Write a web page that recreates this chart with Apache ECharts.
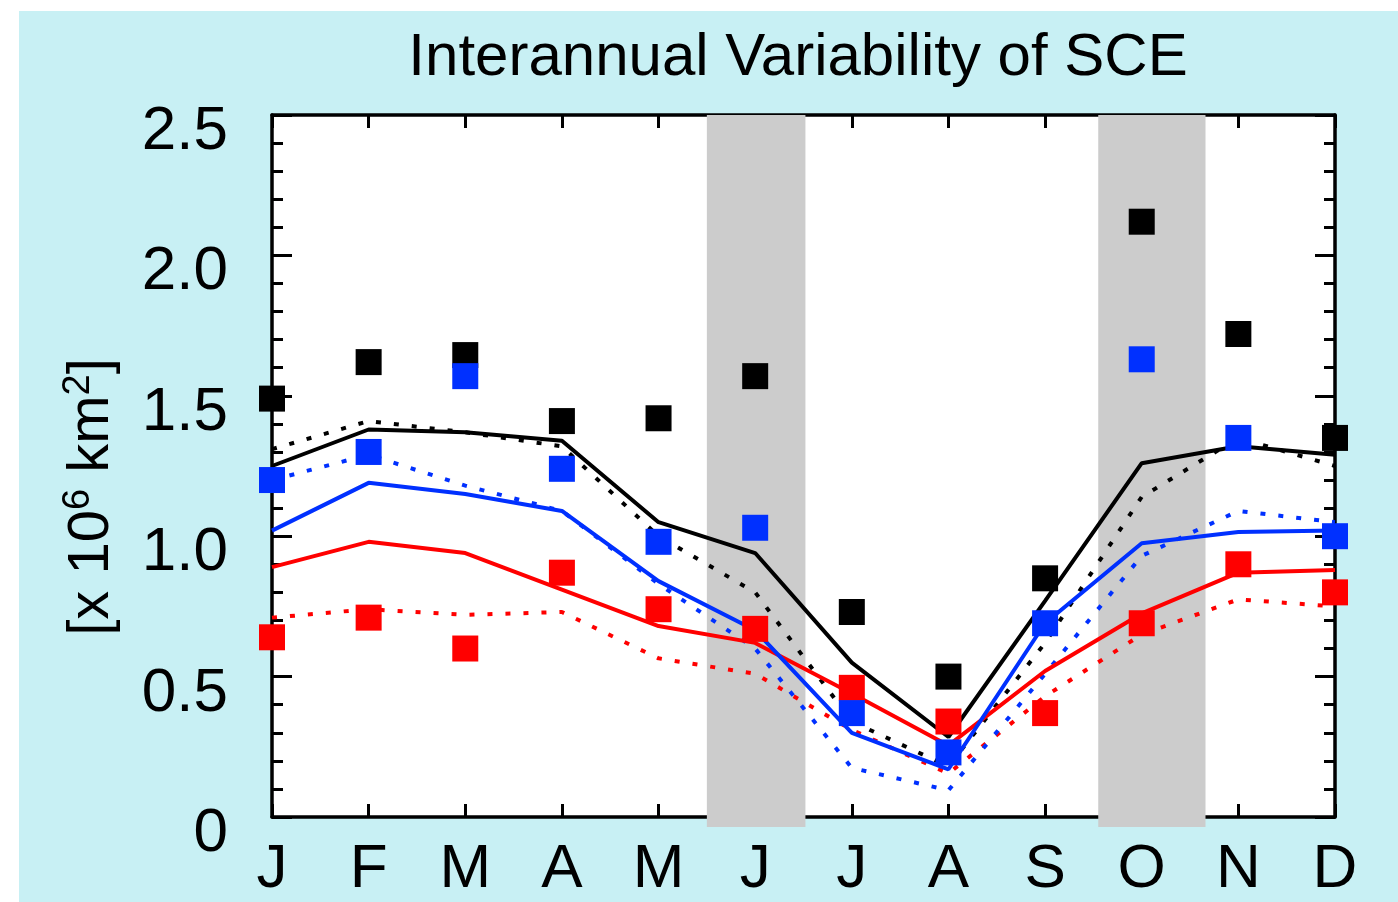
<!DOCTYPE html>
<html>
<head>
<meta charset="utf-8">
<script src="https://cdn.jsdelivr.net/npm/echarts@6/dist/echarts.min.js"></script>
<style>
  html, body { margin: 0; padding: 0; background: #ffffff; }
  #chart {
    position: absolute;
    left: 19px;
    top: 11px;
    width: 1379px;
    height: 891px;
    background: #c8f0f4;
  }
</style>
</head>
<body>
<div id="chart"></div>
<script>
// months along the bottom
const months = ['J', 'F', 'M', 'A', 'M', 'J', 'J', 'A', 'S', 'O', 'N', 'D']
const yTicks = [0, 0.5, 1.0, 1.5, 2.0, 2.5]

// square markers
const blackSquares = [1.49, 1.62, 1.645, 1.41, 1.42, 1.57, 0.73, 0.50, 0.85, 2.12, 1.72, 1.35]
const redSquares = [0.64, 0.71, 0.60, 0.87, 0.74, 0.67, 0.46, 0.34, 0.37, 0.69, 0.90, 0.80]
const blueSquares = [1.20, 1.30, 1.57, 1.24, 0.98, 1.03, 0.37, 0.23, 0.69, 1.63, 1.35, 1.00]

// solid lines
const blackSolid = [1.25, 1.38, 1.37, 1.34, 1.05, 0.94, 0.55, 0.285, 0.77, 1.26, 1.32, 1.29]
const blueSolid = [1.02, 1.19, 1.15, 1.09, 0.84, 0.665, 0.30, 0.17, 0.69, 0.975, 1.015, 1.02]
const redSolid = [0.89, 0.98, 0.94, 0.81, 0.68, 0.62, 0.44, 0.255, 0.52, 0.725, 0.87, 0.88]

// dotted lines
const blackDotted = [1.31, 1.41, 1.37, 1.32, 1.00, 0.80, 0.34, 0.18, 0.62, 1.14, 1.35, 1.25]
const blueDotted = [1.20, 1.29, 1.18, 1.09, 0.83, 0.60, 0.175, 0.095, 0.51, 0.93, 1.09, 1.05]
const redDotted = [0.71, 0.74, 0.72, 0.73, 0.565, 0.51, 0.31, 0.155, 0.43, 0.65, 0.775, 0.75]

// shaded month ranges (in month index units)
const bands = [[4.5, 5.52], [8.55, 9.66]]

const FONT = 'Liberation Sans, Helvetica, Arial, sans-serif'
const BLACK = '#000000'
const BLUE = '#0030ff'
const RED = '#ff0000'

const chart = echarts.init(document.getElementById('chart'))

const pairs = arr => arr.map((v, i) => [i, v])

const lineSeries = (data, color, dotted) => ({
  type: 'line',
  data: pairs(data),
  xAxisIndex: 0,
  yAxisIndex: 0,
  symbol: 'none',
  silent: true,
  z: 2,
  lineStyle: {
    color: color,
    width: 4,
    type: dotted ? [5, 13] : 'solid'
  }
})

const squareSeries = (data, color, z) => ({
  type: 'scatter',
  data: pairs(data),
  xAxisIndex: 0,
  yAxisIndex: 0,
  symbol: 'rect',
  symbolSize: 26,
  silent: true,
  z: z,
  itemStyle: { color: color, opacity: 1 }
})

const yAxisBase = {
  type: 'value',
  min: 0,
  max: 2.5,
  interval: 0.5,
  gridIndex: 0,
  axisLine: { show: true, onZero: false, lineStyle: { color: BLACK, width: 3.5 } },
  axisTick: { show: true, inside: true, length: 20, lineStyle: { color: BLACK, width: 3 } },
  minorTick: { show: true, splitNumber: 5, length: 11, lineStyle: { color: BLACK, width: 3 } },
  splitLine: { show: false }
}

const xAxisBase = {
  type: 'value',
  min: 0,
  max: 11,
  interval: 1,
  gridIndex: 0,
  axisLine: { show: true, onZero: false, lineStyle: { color: BLACK, width: 3.5 } },
  axisTick: { show: true, inside: true, length: 13, lineStyle: { color: BLACK, width: 3 } },
  splitLine: { show: false }
}

const option = {
  animation: false,
  backgroundColor: 'transparent',
  title: {
    text: 'Interannual Variability of SCE',
    left: 774,
    top: 12,
    textAlign: 'center',
    textStyle: { fontFamily: FONT, fontSize: 60, fontWeight: 'normal', color: BLACK }
  },
  grid: [
    { left: 253, right: 63, top: 104, bottom: 85, show: true, backgroundColor: '#ffffff', borderWidth: 0, z: -2 },
    { left: 253, right: 63, top: 104, bottom: 75, show: false }
  ],
  xAxis: [
    Object.assign({}, xAxisBase, {
      position: 'bottom',
      axisLabel: {
        show: true,
        margin: 22,
        fontFamily: FONT,
        fontSize: 62,
        color: BLACK,
        formatter: v => months[v] || ''
      }
    }),
    Object.assign({}, xAxisBase, { position: 'top', axisLabel: { show: false } }),
    { type: 'value', min: 0, max: 11, gridIndex: 1, show: false }
  ],
  yAxis: [
    Object.assign({}, yAxisBase, {
      position: 'left',
      name: '[x 10{sup|6} km{sup|2}]',
      nameLocation: 'middle',
      nameGap: 148,
      nameTextStyle: {
        fontFamily: FONT,
        fontSize: 58,
        color: BLACK,
        padding: [0, 62, 0, 0],
        rich: {
          sup: { fontFamily: FONT, fontSize: 38, color: BLACK, padding: [0, 0, 26, 0] }
        }
      },
      axisLabel: {
        show: true,
        margin: 44,
        fontFamily: FONT,
        fontSize: 62,
        color: BLACK,
        verticalAlign: 'top',
        lineHeight: 34,
        formatter: v => {
          const t = yTicks.find(k => Math.abs(k - v) < 1e-6)
          if (t === undefined) return ''
          return t === 0 ? '0' : t.toFixed(1)
        }
      }
    }),
    Object.assign({}, yAxisBase, { position: 'right', axisLabel: { show: false } }),
    { type: 'value', min: 0, max: 1, gridIndex: 1, show: false }
  ],
  series: [
    {
      type: 'line',
      data: [],
      xAxisIndex: 2,
      yAxisIndex: 2,
      silent: true,
      z: -1,
      markArea: {
        silent: true,
        itemStyle: { color: '#cccccc', opacity: 1 },
        data: bands.map(b => [{ xAxis: b[0] }, { xAxis: b[1] }])
      }
    },
    lineSeries(redDotted, RED, true),
    lineSeries(blueDotted, BLUE, true),
    lineSeries(blackDotted, BLACK, true),
    lineSeries(redSolid, RED, false),
    lineSeries(blueSolid, BLUE, false),
    lineSeries(blackSolid, BLACK, false),
    squareSeries(blackSquares, BLACK, 3),
    squareSeries(redSquares, RED, 4),
    squareSeries(blueSquares, BLUE, 5)
  ]
}

chart.setOption(option)
</script>
</body>
</html>
